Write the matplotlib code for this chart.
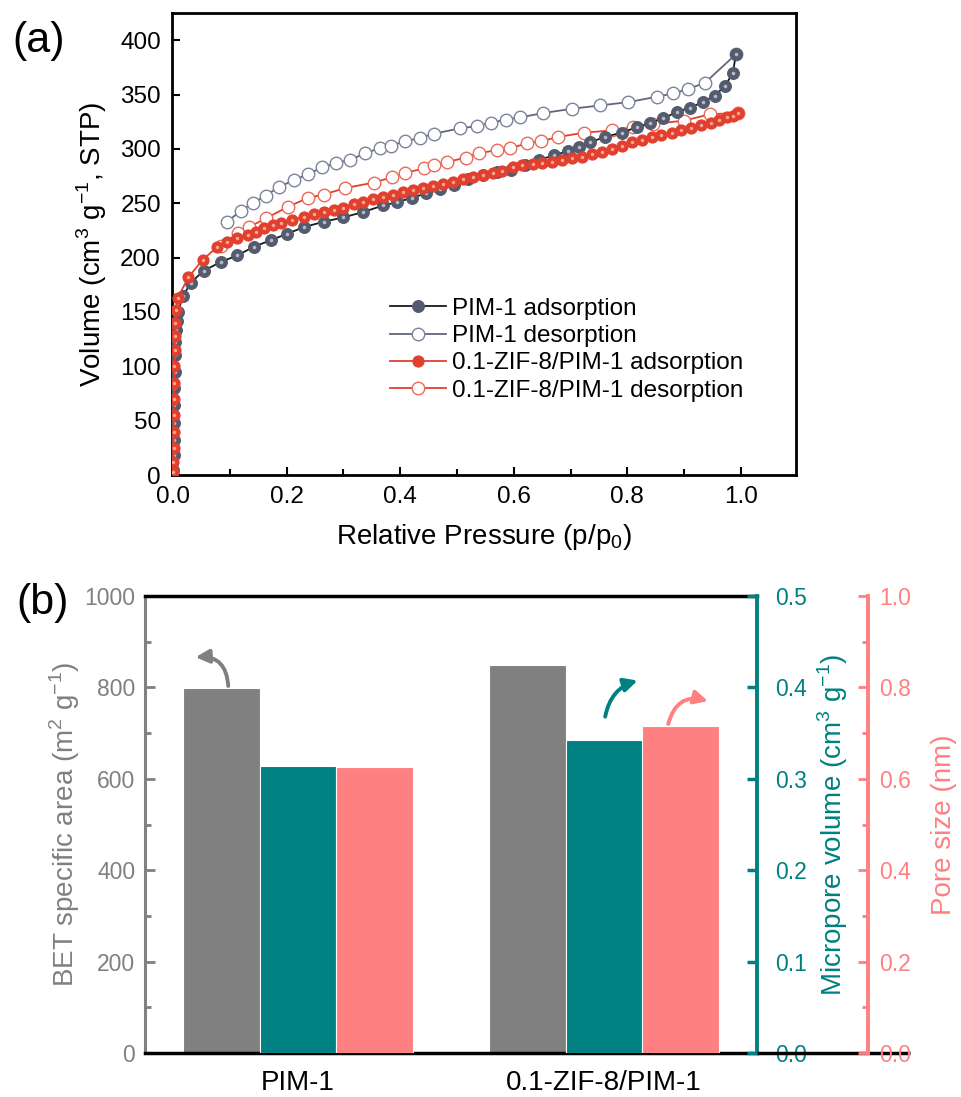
import matplotlib
matplotlib.use("Agg")
import matplotlib.pyplot as plt
from matplotlib.ticker import MultipleLocator, FormatStrFormatter

plt.rcParams['font.family'] = ['Liberation Sans', 'DejaVu Sans']
plt.rcParams['mathtext.fontset'] = 'custom'
plt.rcParams['mathtext.rm'] = 'Liberation Sans'

# ---------------- data: panel (a) ----------------
pim_ads_p = [0.0005, 0.0008, 0.0011, 0.0014, 0.0018, 0.0022, 0.0027, 0.0033, 0.004, 0.005, 0.0065, 0.008,
             0.018, 0.031, 0.054, 0.084, 0.113, 0.142, 0.172, 0.201, 0.23, 0.265, 0.30, 0.335, 0.37, 0.395,
             0.42, 0.445, 0.47, 0.495, 0.52, 0.545, 0.57, 0.595, 0.62, 0.645, 0.67, 0.695, 0.715, 0.734,
             0.76, 0.79, 0.817, 0.84, 0.863, 0.887, 0.91, 0.933, 0.954, 0.972, 0.986, 0.991]
pim_ads_v = [5, 18, 32, 48, 64, 80, 95, 110, 122, 133, 142, 150,
             165, 177, 188, 196, 202, 210, 216, 222, 228, 233, 237, 242, 248, 251,
             255, 259, 263, 267, 272, 276, 279, 281, 285, 290, 294, 298, 302, 306,
             311, 315, 320, 324, 328, 334, 338, 343, 349, 358, 370, 387]

pim_des_p = [0.095, 0.119, 0.14, 0.163, 0.186, 0.212, 0.238, 0.263, 0.286, 0.312, 0.338, 0.365, 0.383,
             0.409, 0.434, 0.459, 0.506, 0.535, 0.559, 0.587, 0.611, 0.652, 0.703, 0.752, 0.801, 0.852,
             0.88, 0.907, 0.937, 0.991]
pim_des_v = [233, 243, 250, 257, 265, 271, 277, 283, 287, 290, 296, 301, 303,
             307, 310, 314, 319, 321, 324, 327, 329, 333, 337, 340, 343, 348,
             351, 355, 361, 387]

zif_ads_p = [0.0004, 0.0006, 0.0008, 0.001, 0.0012, 0.0015, 0.0018, 0.0022, 0.0027, 0.0033, 0.004, 0.005,
             0.008, 0.027, 0.052, 0.078, 0.095, 0.113, 0.131, 0.146, 0.16, 0.175, 0.19, 0.21, 0.23, 0.248,
             0.265, 0.283, 0.30, 0.318, 0.335, 0.352, 0.37, 0.388, 0.405, 0.423, 0.44, 0.458, 0.475, 0.493,
             0.51, 0.528, 0.545, 0.563, 0.58, 0.598, 0.615, 0.633, 0.65, 0.668, 0.685, 0.703, 0.72, 0.738,
             0.755, 0.773, 0.79, 0.808, 0.825, 0.843, 0.86, 0.878, 0.895, 0.912, 0.93, 0.947, 0.962, 0.975,
             0.986, 0.995]
zif_ads_v = [3, 12, 25, 40, 55, 70, 85, 100, 115, 128, 140, 152,
             163, 182, 198, 210, 214, 218, 221, 224, 227, 230, 232, 235, 237, 240,
             242, 244, 246, 249, 251, 254, 256, 258, 260, 262, 264, 266, 268, 270,
             272, 274, 276, 278, 280, 283, 285, 286, 287, 288, 290, 292, 293, 295,
             297, 300, 303, 306, 308, 311, 313, 315, 317, 319, 322, 324, 327, 329,
             330, 333]

zif_des_p = [0.084, 0.115, 0.133, 0.163, 0.203, 0.238, 0.265, 0.303, 0.353, 0.386, 0.409, 0.441, 0.459,
             0.483, 0.515, 0.538, 0.571, 0.594, 0.624, 0.648, 0.678, 0.724, 0.773, 0.81, 0.846, 0.9,
             0.946, 0.995]
zif_des_v = [211, 223, 228, 236, 247, 255, 258, 264, 269, 274, 278, 282, 285,
             288, 292, 296, 299, 301, 305, 307, 311, 315, 317, 320, 323, 326,
             332, 333]

series_labels = ['PIM-1 adsorption', 'PIM-1 desorption',
                 '0.1-ZIF-8/PIM-1 adsorption', '0.1-ZIF-8/PIM-1 desorption']

# ---------------- data: panel (b) ----------------
samples = ['PIM-1', '0.1-ZIF-8/PIM-1']
bet_area = [798, 848]          # m2/g
micro_volume = [0.314, 0.342]  # cm3/g
pore_size = [0.626, 0.715]     # nm

# ---------------- styles ----------------
c_gray_m = '#545b6e'
c_gray_hl = '#b4b9c6'
c_gray_des = '#5f677c'
c_red = '#e2402f'
c_red_hl = '#f6a795'
c_bar_gray = '#808080'
c_teal = '#008080'
c_pink = '#ff8080'

fig = plt.figure(figsize=(9.61, 10.97), dpi=100)

# ================= panel (a) =================
ax = fig.add_axes([0.179, 0.567, 0.6493, 0.4211])
l1, = ax.plot(pim_ads_p, pim_ads_v, '-', color='#1a1a1a', lw=1.3, marker='o', ms=8.5,
              mfc=c_gray_m, mec=c_gray_m, mew=0.8, zorder=3, label=series_labels[0])
ax.plot(pim_ads_p, pim_ads_v, 'o', ms=2.6, color=c_gray_hl, mew=0, zorder=3.1)
l2, = ax.plot(pim_des_p, pim_des_v, '-', color=c_gray_des, lw=1.3, marker='o', ms=9,
              mfc='white', mec='#7d849a', mew=1.0, zorder=2.5, label=series_labels[1])
l3, = ax.plot(zif_ads_p, zif_ads_v, '-', color=c_red, lw=1.3, marker='o', ms=8.0,
              mfc=c_red, mec=c_red, mew=0.8, zorder=4, label=series_labels[2])
ax.plot(zif_ads_p, zif_ads_v, 'o', ms=2.5, color=c_red_hl, mew=0, zorder=4.1)
l4, = ax.plot(zif_des_p, zif_des_v, '-', color=c_red, lw=1.3, marker='o', ms=9,
              mfc='white', mec='#ea6a58', mew=1.0, zorder=2.6, label=series_labels[3])

ax.set_xlim(-0.002, 1.097)
ax.set_ylim(0, 425)
ax.xaxis.set_major_locator(MultipleLocator(0.2))
ax.xaxis.set_minor_locator(MultipleLocator(0.1))
ax.xaxis.set_major_formatter(FormatStrFormatter('%.1f'))
ax.yaxis.set_major_locator(MultipleLocator(50))
ax.tick_params(which='both', direction='in', top=False, right=False, labelsize=17.5)
ax.tick_params(which='major', length=6, width=1.5, pad=8)
ax.tick_params(which='minor', length=4, width=1.5)
for s in ax.spines.values():
    s.set_linewidth(2.0)
ax.set_xlabel('Relative Pressure (p/p$_0$)', fontsize=20, labelpad=10)
ax.set_ylabel('Volume (cm$^3$ g$^{-1}$, STP)', fontsize=20, labelpad=8)
ax.legend(handles=[l1, l2, l3, l4], loc='upper left', bbox_to_anchor=(0.33, 0.41),
          frameon=False, fontsize=17.5, handlelength=2.3, handletextpad=0.25,
          labelspacing=0.22, borderpad=0, numpoints=1)
fig.text(0.04, 0.963, '(a)', fontsize=31, ha='center', va='center')

# ================= panel (b) =================
axb = fig.add_axes([0.1509, 0.0401, 0.6368, 0.4166])
axt = axb.twinx()
axp = axb.twinx()
xs = list(range(len(samples)))
w = 0.25
axb.bar([x - w for x in xs], bet_area, width=w, color=c_bar_gray, edgecolor='white', lw=0.8, zorder=2)
axt.bar(xs, micro_volume, width=w, color=c_teal, edgecolor='white', lw=0.8, zorder=2)
axp.bar([x + w for x in xs], pore_size, width=w, color=c_pink, edgecolor='white', lw=0.8, zorder=2)

axb.set_xlim(-0.5, 1.5)
axb.set_xticks(xs)
axb.set_xticklabels(samples, fontsize=20)
axb.tick_params(axis='x', length=0, pad=12)
axb.set_ylim(0, 1000)
axb.yaxis.set_major_locator(MultipleLocator(200))
axb.yaxis.set_minor_locator(MultipleLocator(100))
axb.tick_params(axis='y', which='both', direction='in', colors=c_bar_gray, labelsize=16.5, width=2)
axb.tick_params(axis='y', which='major', length=7, pad=7)
axb.tick_params(axis='y', which='minor', length=4)
axb.set_ylabel('BET specific area (m$^2$ g$^{-1}$)', fontsize=20, color=c_bar_gray, labelpad=2)
axb.spines['left'].set_color(c_bar_gray)
axb.spines['left'].set_linewidth(2.2)
axb.spines['top'].set_linewidth(2.5)
axb.spines['bottom'].set_linewidth(2.5)
axb.spines['right'].set_visible(False)

axt.set_ylim(0, 0.5)
axt.yaxis.set_major_locator(MultipleLocator(0.1))
axt.yaxis.set_major_formatter(FormatStrFormatter('%.1f'))
axt.tick_params(axis='y', direction='in', colors=c_teal, labelsize=16.5, length=7, width=2.5, pad=13)
axt.set_ylabel('Micropore volume (cm$^3$ g$^{-1}$)', fontsize=20, color=c_teal, labelpad=6)
for k in ['left', 'top', 'bottom']:
    axt.spines[k].set_visible(False)
axt.spines['right'].set_color(c_teal)
axt.spines['right'].set_linewidth(2.8)

axp.set_ylim(0, 1.0)
axp.yaxis.set_major_locator(MultipleLocator(0.2))
axp.yaxis.set_minor_locator(MultipleLocator(0.1))
axp.yaxis.set_major_formatter(FormatStrFormatter('%.1f'))
axp.tick_params(axis='y', which='both', direction='in', colors=c_pink, labelsize=16.5, width=2, pad=8)
axp.tick_params(axis='y', which='major', length=7)
axp.tick_params(axis='y', which='minor', length=4)
axp.set_ylabel('Pore size (nm)', fontsize=20, color=c_pink, labelpad=14)
for k in ['left', 'top', 'bottom']:
    axp.spines[k].set_visible(False)
axp.spines['right'].set_position(('outward', 80))
axp.spines['right'].set_color(c_pink)
axp.spines['right'].set_linewidth(2.8)

# extended baseline under the right axes
axp.plot([1.0, 1.25], [0, 0], transform=axp.transAxes, color='black', lw=2.5,
         clip_on=False, zorder=1, solid_capstyle='butt')

# curved arrows pointing to the axis of each series
arrow_specs = [
    ((-0.228, 803), (-0.335, 866), 0.5, c_bar_gray),
    ((1.004, 736), (1.11, 815), -0.3, c_teal),
    ((1.21, 720), (1.34, 770), -0.5, c_pink),
]
for base, tip, rad, col in arrow_specs:
    axp.annotate('', xy=tip, xytext=base, xycoords=axb.transData, textcoords=axb.transData,
                 arrowprops=dict(arrowstyle='-|>,head_length=0.8,head_width=0.4', color=col, lw=2.8,
                                 connectionstyle=f'arc3,rad={rad}', shrinkA=0, shrinkB=0))

fig.text(0.044, 0.45, '(b)', fontsize=31, ha='center', va='center')

fig.savefig('out.png', dpi=100)
